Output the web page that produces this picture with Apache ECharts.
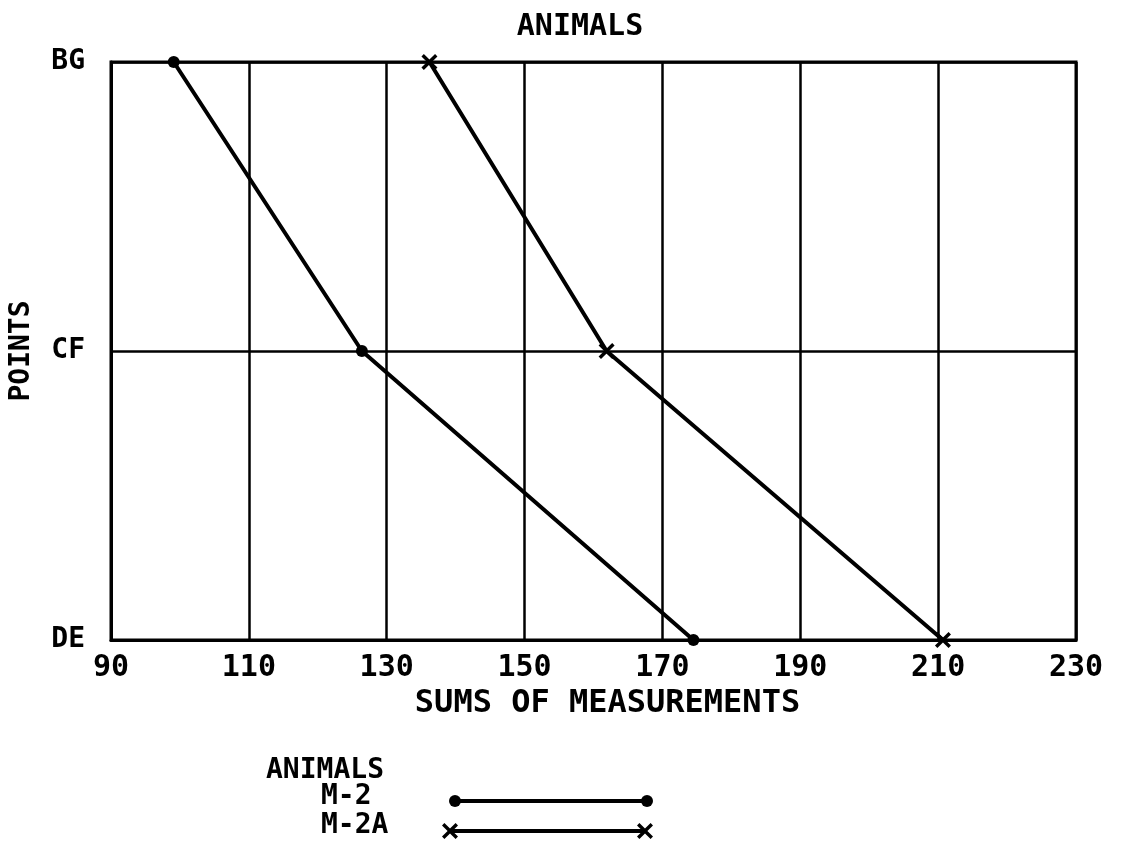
<!DOCTYPE html>
<html><head><meta charset="utf-8">
<script src="https://cdn.jsdelivr.net/npm/echarts@6/dist/echarts.min.js"></script>
<style>html,body{margin:0;padding:0;background:#fff}#c{width:1121px;height:849px}</style>
</head><body><div id="c"></div>
<script>
const categories = ['DE', 'CF', 'BG'];
const pointsOrder = ['BG', 'CF', 'DE'];
const m2 = [99.1, 126.4, 174.5];
const m2a = [136.2, 161.9, 210.7];
const seriesNames = ['M-2', 'M-2A'];
const xTicks = [90, 110, 130, 150, 170, 190, 210, 230];

const FONT = '"DejaVu Sans Mono", monospace';
const crossPath = 'path://M0,1.5L1.5,0L5,3.5L8.5,0L10,1.5L6.5,5L10,8.5L8.5,10L5,6.5L1.5,10L0,8.5L3.5,5Z';
const crossPts = [[0,1.5],[1.5,0],[5,3.5],[8.5,0],[10,1.5],[6.5,5],[10,8.5],[8.5,10],[5,6.5],[1.5,10],[0,8.5],[3.5,5]];
function crossAt(cx, cy, s) {
  return {type: 'polygon', shape: {points: crossPts.map(p => [cx + (p[0] - 5) * s, cy + (p[1] - 5) * s])}, style: {fill: '#000'}};
}

const chart = echarts.init(document.getElementById('c'));
const txt = (size) => ({fontFamily: FONT, fontWeight: 'bold', fontSize: size, color: '#000'});
const gtext = (t, x, y) => ({type: 'text', x: x, y: y, style: {text: t, font: 'bold 28px ' + FONT, fill: '#000', verticalAlign: 'middle'}});

chart.setOption({
  animation: false,
  backgroundColor: '#fff',
  title: {text: 'ANIMALS', left: 575, top: 7, textAlign: 'center', textStyle: txt(30)},
  grid: {left: 108, right: 45, top: 62, bottom: 209, show: true, borderColor: '#000', borderWidth: 3},
  xAxis: {
    type: 'value', min: 90, max: 230, interval: 20,
    name: 'SUMS OF MEASUREMENTS', nameLocation: 'middle', nameGap: 45,
    nameTextStyle: Object.assign({padding: [0, 0, 0, 28]}, txt(32)),
    axisLine: {show: true, lineStyle: {color: '#000', width: 3}},
    axisTick: {show: false},
    axisLabel: Object.assign({margin: 13, formatter: v => xTicks.includes(v) ? String(v) : ''}, txt(30)),
    splitLine: {show: true, lineStyle: {color: '#000', width: 2.5}}
  },
  yAxis: {
    type: 'category', data: categories, boundaryGap: false,
    name: 'POINTS', nameLocation: 'middle', nameGap: 75, nameRotate: 90, nameTextStyle: txt(28),
    axisLine: {show: true, lineStyle: {color: '#000', width: 3}},
    axisTick: {show: false},
    axisLabel: Object.assign({margin: 26}, txt(28)),
    splitLine: {show: true, lineStyle: {color: '#000', width: 2.5}}
  },
  series: [
    {name: seriesNames[0], type: 'line', data: pointsOrder.map((p, i) => [m2[i], p]),
     symbol: 'circle', symbolSize: 12, lineStyle: {color: '#000', width: 4}, itemStyle: {color: '#000'}},
    {name: seriesNames[1], type: 'line', data: pointsOrder.map((p, i) => [m2a[i], p]),
     symbol: crossPath, symbolSize: 16, lineStyle: {color: '#000', width: 4}, itemStyle: {color: '#000'}}
  ],
  graphic: [
    gtext('ANIMALS', 266, 771),
    gtext(seriesNames[0], 321, 797),
    gtext(seriesNames[1], 321, 826),
    {type: 'line', shape: {x1: 455, y1: 801, x2: 647, y2: 801}, style: {stroke: '#000', lineWidth: 4}},
    {type: 'circle', shape: {cx: 455, cy: 801, r: 6}, style: {fill: '#000'}},
    {type: 'circle', shape: {cx: 647, cy: 801, r: 6}, style: {fill: '#000'}},
    {type: 'line', shape: {x1: 450, y1: 831, x2: 645, y2: 831}, style: {stroke: '#000', lineWidth: 4}},
    crossAt(450, 831, 1.6),
    crossAt(645, 831, 1.6)
  ]
});
</script></body></html>
